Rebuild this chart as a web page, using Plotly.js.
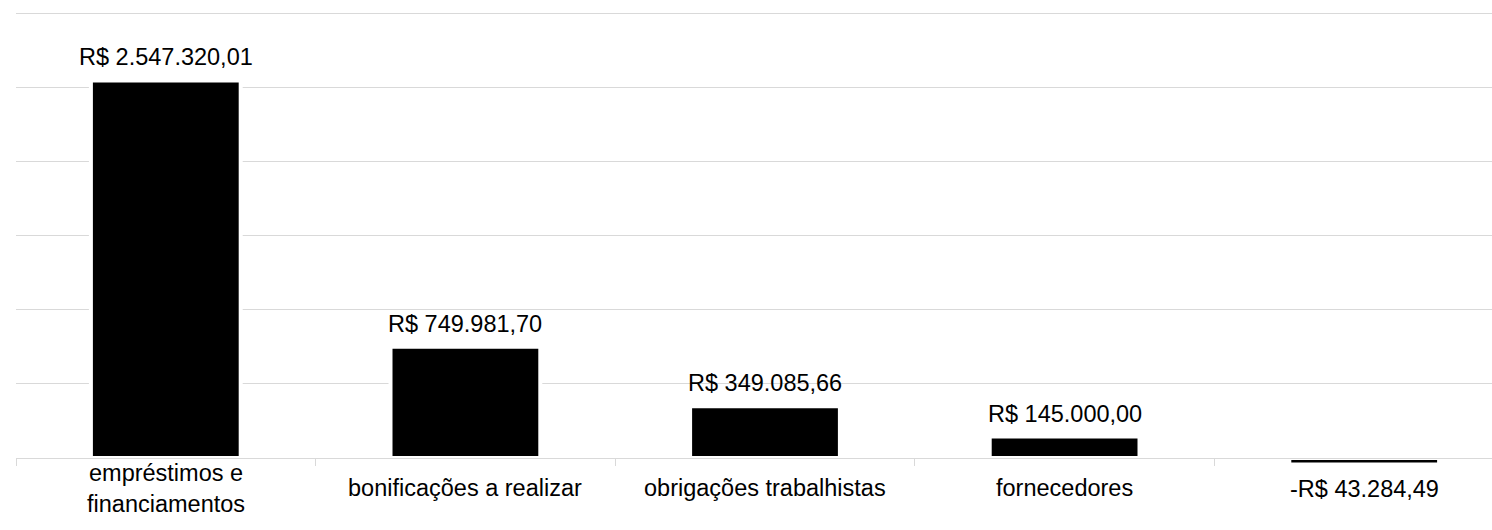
<!DOCTYPE html>
<html>
<head>
<meta charset="utf-8">
<script src="https://cdn.plot.ly/plotly-3.0.1.min.js"></script>
<style>
  html, body { margin: 0; padding: 0; background: #fff; overflow: hidden; }
  #chart { width: 1530px; height: 530px; }
</style>
</head>
<body>
<div id="chart"></div>
<script>
// ---- data ----
const categories = [
  "empréstimos e<br>financiamentos",
  "bonificações a realizar",
  "obrigações trabalhistas",
  "fornecedores",
  " "
];
const values = [2547320.01, 749981.70, 349085.66, 145000.00, -43284.49];

function brl(v) {
  const neg = v < 0;
  const parts = Math.abs(v).toFixed(2).split(".");
  const intPart = parts[0].replace(/\B(?=(\d{3})+(?!\d))/g, ".");
  return (neg ? "-" : "") + "R$ " + intPart + "," + parts[1];
}
const valueLabels = values.map(brl);

const FONT = "'Liberation Sans', Arial, sans-serif";
const FSIZE = 23.5;

const Y_MAX = 3015516;
const Y_MIN = -60715;

const trace = {
  type: "bar",
  x: categories,
  y: values,
  width: 0.5,
  marker: { color: "#000000", line: { color: "#ffffff", width: 4 } },
  cliponaxis: false,
  hoverinfo: "skip"
};

const valueAnnotations = values.map((v, i) => ({
  x: categories[i],
  y: v,
  xref: "x",
  yref: "y",
  text: valueLabels[i],
  showarrow: false,
  yanchor: v >= 0 ? "bottom" : "middle",
  yshift: v >= 0 ? 8 : -25,
  font: { family: FONT, size: FSIZE, color: "#000000" }
}));

const categoryAnnotations = categories
  .map((c, i) => ({ c, i }))
  .filter(o => o.c.trim() !== "")
  .map(o => ({
    x: o.c,
    y: 0,
    xref: "x",
    yref: "y",
    text: o.c,
    showarrow: false,
    yanchor: "middle",
    yshift: -30,
    font: { family: FONT, size: FSIZE, color: "#000000" }
  }));

const layout = {
  width: 1530,
  height: 530,
  margin: { l: 16, r: 16, t: 11, b: 63 },
  paper_bgcolor: "#ffffff",
  plot_bgcolor: "#ffffff",
  showlegend: false,
  xaxis: {
    type: "category",
    anchor: "free",
    position: -Y_MIN / (Y_MAX - Y_MIN),
    showline: true,
    linecolor: "#d9d9d9",
    linewidth: 1,
    ticks: "outside",
    tickson: "boundaries",
    ticklen: 7,
    tickcolor: "#d9d9d9",
    tickwidth: 1,
    showgrid: false,
    showticklabels: false,
    fixedrange: true
  },
  yaxis: {
    range: [Y_MIN, Y_MAX],
    tick0: 0,
    dtick: 500000,
    showgrid: true,
    gridcolor: "#d9d9d9",
    gridwidth: 1,
    zeroline: false,
    showline: false,
    showticklabels: false,
    ticks: "",
    fixedrange: true
  },
  annotations: valueAnnotations.concat(categoryAnnotations)
};

Plotly.newPlot("chart", [trace], layout, { displayModeBar: false, staticPlot: true });
</script>
</body>
</html>
